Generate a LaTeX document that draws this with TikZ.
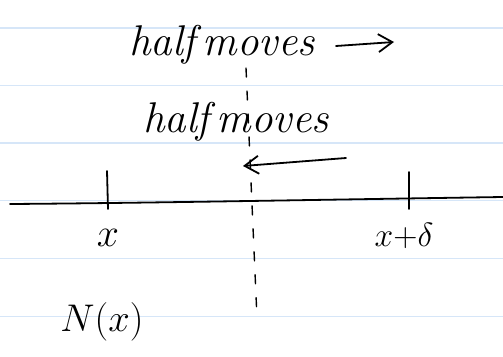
\documentclass[tikz,border=0pt]{standalone}
\usetikzlibrary{arrows.meta}
\definecolor{rulecol}{RGB}{214,230,248}
\tikzset{
  rule/.style={draw=rulecol, line width=1.3pt},
  ink/.style={draw=black, line width=1.8pt, line cap=round},
  handtext/.style={font=\fontsize{43}{50}\selectfont\itshape, inner sep=0pt},
  labeltext/.style={font=\Huge, inner sep=0pt, scale=1.35},
  xlabel/.style={font=\Huge, inner sep=0pt, scale=1.6},
  biglabel/.style={font=\Huge, inner sep=0pt, scale=1.55},
  arr/.style={ink, -{Straight Barb[length=14pt, width=18pt, line width=1.8pt]}},
  dashline/.style={ink, line width=1.4pt, dash pattern=on 9pt off 14pt}
}
\begin{document}
\begin{tikzpicture}[x=1pt,y=-1pt]
\fill[white] (0,0) rectangle (503,356);
\useasboundingbox (0,0) rectangle (503,356);
% ruled lines
\foreach \yy in {28,85.5,143,200.5,258.5,316.5}
  \draw[rule] (0,\yy) -- (503,\yy);
% dashed divider
\coordinate (dtop) at (246,68);
\coordinate (dbot) at (257,318);
\draw[dashline] (dtop) -- (dbot);
% axis
\coordinate (aL) at (10,204);
\coordinate (aR) at (503,197);
\draw[ink] (aL) .. controls (150,203) and (300,200) .. (aR);
% ticks
\coordinate (t1a) at (107,171);
\coordinate (t1b) at (108,209);
\coordinate (t2a) at (409,172);
\coordinate (t2b) at (409,209);
\draw[ink] (t1a) -- (t1b);
\draw[ink] (t2a) -- (t2b);
% texts
\node[handtext] (hm1) at (222,45) {half\,moves};
\node[handtext] (hm2) at (236,122) {half\,moves};
% arrows
\coordinate (r1s) at (336,46);
\coordinate (r1e) at (394,42);
\draw[arr] (r1s) -- (r1e);
\coordinate (l1s) at (346,158);
\coordinate (l1e) at (243,166);
\draw[arr] (l1s) -- (l1e);
% labels
\node[xlabel] (lx) at (108,238) {$x$};
\node[labeltext] (lxd) at (404,236) {$x{+}\delta$};
\node[biglabel] (nx) at (102,322) {$N(x)$};
\end{tikzpicture}
\end{document}
